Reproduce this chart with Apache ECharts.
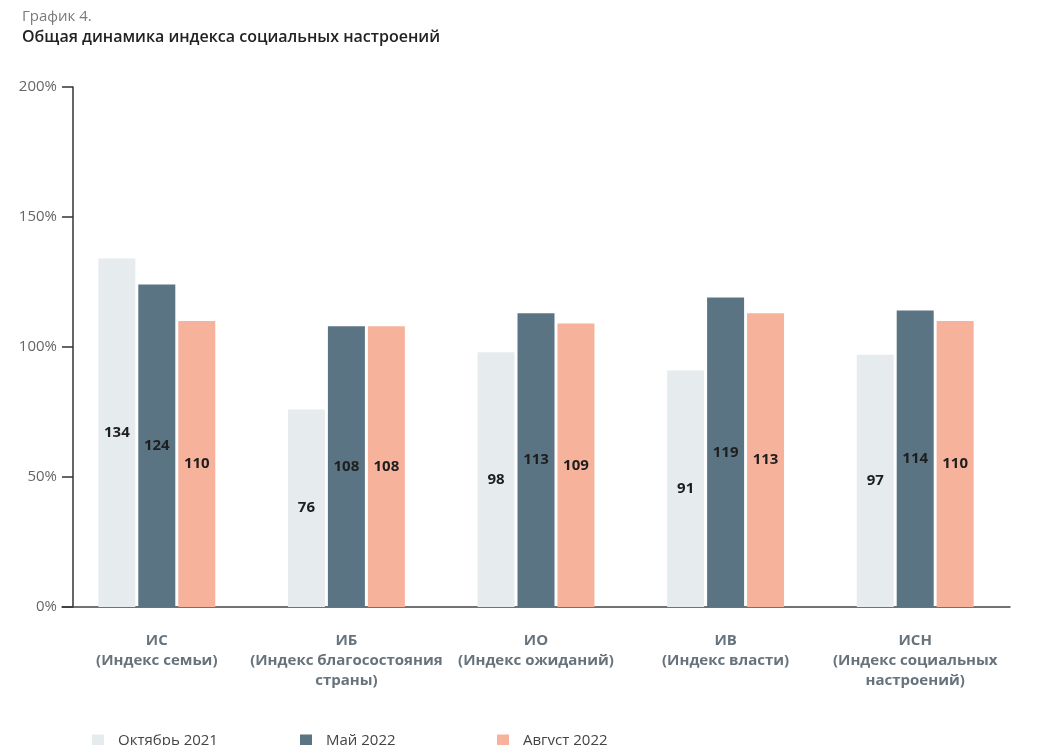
<!DOCTYPE html>
<html>
<head>
<meta charset="utf-8">
<script src="https://cdn.jsdelivr.net/npm/echarts@6/dist/echarts.min.js"></script>
<style>
html,body{margin:0;padding:0;background:#fff;}
#chart{width:1039px;height:745px;}
</style>
</head>
<body>
<div id="chart"></div>
<script>
const categories = [
  "ИС\n(Индекс семьи)",
  "ИБ\n(Индекс благосостояния\nстраны)",
  "ИО\n(Индекс ожиданий)",
  "ИВ\n(Индекс власти)",
  "ИСН\n(Индекс социальных\nнастроений)"
];
const seriesNames = ["Октябрь 2021", "Май 2022", "Август 2022"];
const oct2021 = [134, 76, 98, 91, 97];
const may2022 = [124, 108, 113, 119, 114];
const aug2022 = [110, 108, 109, 113, 110];
const yTicks = [0, 50, 100, 150, 200];
const colors = ["#e6ecee", "#5b7483", "#f6b29a"];

const FONT = "'Open Sans', 'Noto Sans', sans-serif";
const chart = echarts.init(document.getElementById('chart'), null, {renderer: 'canvas'});

const dataSets = [oct2021, may2022, aug2022];
const series = dataSets.map((d, i) => ({
  name: seriesNames[i],
  type: 'bar',
  data: d,
  barWidth: 37,
  barGap: '8%',
  itemStyle: {color: colors[i]},
  label: {
    show: true,
    position: 'inside',
    color: '#1e1e1e',
    fontWeight: 'bold',
    fontSize: 15,
    fontFamily: FONT
  },
  emphasis: {disabled: true}
}));

const legendPos = [87, 295, 492];
const legends = seriesNames.map((n, i) => ({
  data: [n],
  left: legendPos[i],
  top: 728,
  itemWidth: 12,
  itemHeight: 12,
  icon: 'rect',
  textStyle: {color: '#444', fontSize: 15, fontFamily: FONT, padding: [0, 0, 0, 9]}
}));

chart.setOption({
  animation: false,
  color: colors,
  title: [
    {text: 'График 4.', left: 17, top: 4, textStyle: {color: '#7a7a7a', fontSize: 15, fontWeight: 'normal', fontFamily: FONT}},
    {text: 'Общая динамика индекса социальных настроений', left: 17, top: 24, textStyle: {color: '#222', fontSize: 16, fontWeight: 600, fontFamily: FONT}}
  ],
  legend: legends,
  grid: {left: 62, right: 29, top: 87, bottom: 138, containLabel: false},
  xAxis: {
    type: 'category',
    data: categories,
    axisLine: {show: true, lineStyle: {color: '#444', width: 1.5}},
    axisTick: {show: false},
    axisLabel: {
      interval: 0,
      margin: 24,
      color: '#67737c',
      fontWeight: 'bold',
      fontSize: 15,
      lineHeight: 20,
      fontFamily: FONT
    }
  },
  yAxis: {
    type: 'value',
    min: yTicks[0],
    max: yTicks[yTicks.length - 1],
    interval: 50,
    offset: -11,
    axisLine: {show: true, lineStyle: {color: '#333', width: 1.5}},
    axisTick: {show: true, length: 11, inside: false, lineStyle: {color: '#333', width: 1.5}},
    splitLine: {show: false},
    axisLabel: {
      margin: 16,
      color: '#666',
      fontSize: 15,
      fontFamily: FONT,
      formatter: v => v + '%'
    }
  },
  series: series
});
</script>
</body>
</html>
